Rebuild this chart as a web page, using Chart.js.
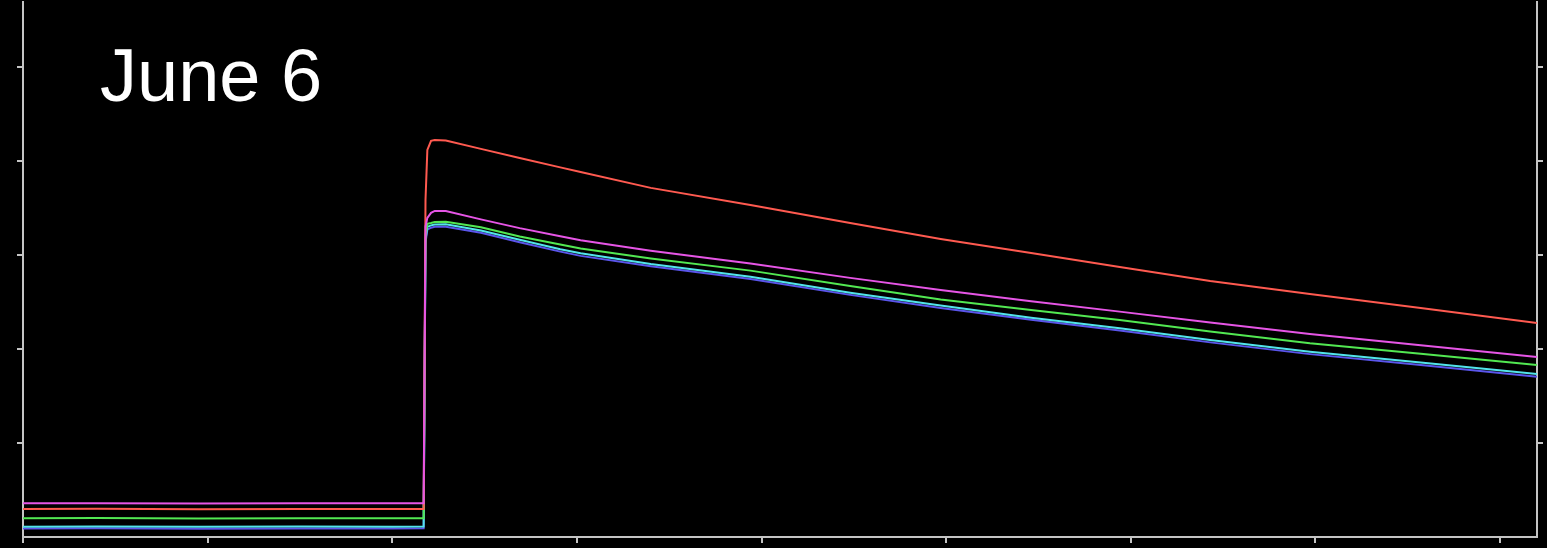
<!DOCTYPE html>
<html>
<head>
<meta charset="utf-8">
<script src="https://cdn.jsdelivr.net/npm/chart.js@4.4.1/dist/chart.umd.min.js"></script>
<style>
  html, body { margin: 0; padding: 0; background: #000; }
  #wrap { position: relative; width: 1547px; height: 548px; }
  #label {
    position: absolute; left: 100px; top: 39px;
    font-family: "Liberation Sans", Arial, sans-serif;
    font-size: 74px; line-height: 74px; color: #fff;
    white-space: nowrap;
  }
</style>
</head>
<body>
<div id="wrap">
  <canvas id="myChart" width="1547" height="548"></canvas>
  <div id="label">June 6</div>
</div>
<script>
// time axis (one tick per unit), same for every trace
const times = [0, 0.4, 0.95, 1.5, 2.0, 2.17, 2.18, 2.19, 2.21, 2.23, 2.29, 2.48, 2.69,
  2.91, 3.02, 3.4, 3.94, 4.48, 4.97, 5.46, 5.94, 6.43, 6.97, 7.57, 8.2];

const redValues = [0.298, 0.300, 0.296, 0.298, 0.299, 0.298, 3.585, 4.117, 4.213, 4.223, 4.218, 4.128, 4.030,
  3.931, 3.883, 3.713, 3.532, 3.340, 3.170, 3.021, 2.872, 2.723, 2.585, 2.436, 2.277];
const magentaValues = [0.358, 0.360, 0.357, 0.358, 0.359, 0.360, 3.300, 3.394, 3.447, 3.468, 3.468, 3.378, 3.285,
  3.199, 3.156, 3.045, 2.910, 2.756, 2.628, 2.507, 2.397, 2.282, 2.160, 2.040, 1.915];
const greenValues = [0.199, 0.201, 0.198, 0.200, 0.199, 0.200, 3.213, 3.330, 3.340, 3.351, 3.354, 3.295, 3.196,
  3.110, 3.068, 2.962, 2.833, 2.670, 2.527, 2.415, 2.309, 2.186, 2.061, 1.949, 1.830];
const cyanValues = [0.110, 0.112, 0.109, 0.111, 0.110, 0.112, 3.160, 3.298, 3.314, 3.324, 3.327, 3.260, 3.161,
  3.061, 3.017, 2.904, 2.769, 2.598, 2.461, 2.333, 2.220, 2.096, 1.971, 1.856, 1.734];
const blueValues = [0.090, 0.092, 0.089, 0.091, 0.090, 0.092, 3.130, 3.270, 3.290, 3.300, 3.300, 3.235, 3.135,
  3.035, 2.990, 2.880, 2.745, 2.575, 2.435, 2.310, 2.195, 2.070, 1.945, 1.830, 1.705];

const axisColor = "#c4c4c4";

function pts(values) {
  return times.map((t, i) => ({ x: t, y: values[i] }));
}

function trace(values, color) {
  return {
    data: pts(values),
    borderColor: color,
    borderWidth: 2,
    pointRadius: 0,
    tension: 0,
    fill: false,
  };
}

const yAxis = (pos) => ({
  type: "linear",
  position: pos,
  min: 0,
  max: 5.69,
  ticks: { display: false, stepSize: 1, includeBounds: false },
  grid: {
    drawOnChartArea: false,
    tickLength: 6,
    lineWidth: 2,
    color: (ctx) => (ctx.tick && ctx.tick.value === 0 ? "rgba(0,0,0,0)" : axisColor),
  },
  border: { color: axisColor, width: 2 },
});

new Chart("myChart", {
  type: "line",
  data: {
    datasets: [
      trace(magentaValues, "#e655e6"),
      trace(redValues, "#ff5a50"),
      trace(greenValues, "#52e852"),
      trace(cyanValues, "#52e4ea"),
      trace(blueValues, "#5a55ea"),
    ],
  },
  options: {
    responsive: false,
    animation: false,
    layout: { padding: { left: 17, right: 4, top: 2, bottom: 5 } },
    plugins: { legend: { display: false }, tooltip: { enabled: false } },
    scales: {
      x: {
        type: "linear",
        min: 0,
        max: 8.2,
        ticks: { display: false, stepSize: 1, includeBounds: false },
        grid: { drawOnChartArea: false, tickLength: 6, lineWidth: 2, color: axisColor },
        border: { color: axisColor, width: 2 },
      },
      y: yAxis("left"),
      y2: yAxis("right"),
    },
  },
});
</script>
</body>
</html>
